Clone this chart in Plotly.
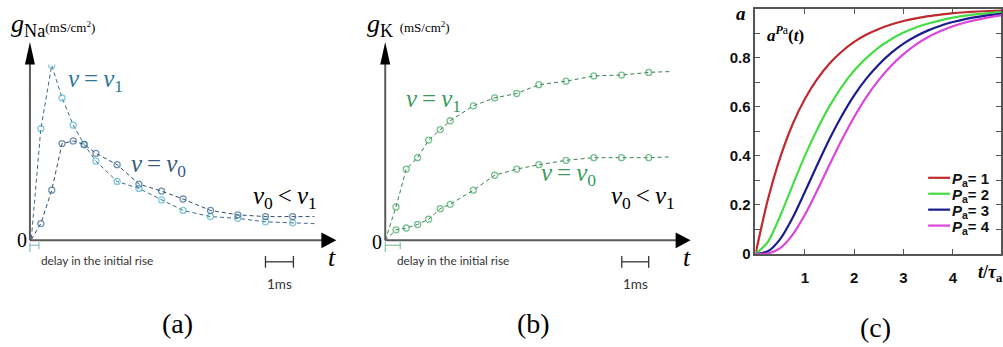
import plotly.graph_objects as go

W, H = 1003, 347

# panel (a): sodium conductance, t in ms, g in mS/cm^2
t_na = [0.05, 0.39, 0.78, 1.15, 1.55, 1.94, 2.36, 3.12, 3.90, 4.71, 5.48, 6.46, 7.44, 8.43, 9.40, 10.18]
g_na_v1 = [0.2, 12.7, 19.9, 16.2, 13.1, 10.9, 9.0, 6.7, 5.9, 4.6, 3.4, 2.7, 2.5, 2.1, 2.0, 1.9]
g_na_v0 = [0.1, 1.9, 5.7, 11.0, 11.3, 10.9, 9.9, 8.6, 6.4, 5.6, 4.7, 3.4, 2.9, 2.7, 2.7, 2.7]

# panel (b): potassium conductance
t_k = [0.0, 0.40, 0.78, 1.20, 1.61, 2.04, 2.41, 3.27, 4.06, 4.88, 5.70, 6.71, 7.74, 8.77, 9.78, 10.63]
g_k_v1 = [0.0, 3.8, 8.1, 9.4, 11.4, 12.6, 13.6, 15.3, 16.2, 16.7, 17.7, 18.1, 18.7, 18.8, 19.1, 19.2]
g_k_v0 = [0.0, 1.2, 1.4, 1.8, 2.4, 3.6, 4.1, 5.7, 7.4, 8.1, 8.6, 9.1, 9.4, 9.4, 9.4, 9.5]

# marker sizes: first/last points are only line ends
msize = [0] + [6] * 14 + [0]

# panel (c): a^Pa(t) vs t/tau_a
t_tau = [0, 0.25, 0.5, 0.75, 1.0, 1.25, 1.5, 1.75, 2.0, 2.25, 2.5, 2.75, 3.0,
         3.25, 3.5, 3.75, 4.0, 4.25, 4.5, 4.75, 5.0]
a_p1 = [0, 0.221, 0.393, 0.528, 0.632, 0.713, 0.777, 0.826, 0.865, 0.895, 0.918, 0.936, 0.950,
        0.961, 0.970, 0.976, 0.982, 0.986, 0.989, 0.991, 0.993]
a_p2 = [0, 0.049, 0.155, 0.279, 0.400, 0.508, 0.603, 0.683, 0.748, 0.800, 0.843, 0.876, 0.903,
        0.924, 0.940, 0.953, 0.964, 0.972, 0.978, 0.983, 0.987]
a_p3 = [0, 0.011, 0.061, 0.147, 0.253, 0.363, 0.469, 0.564, 0.647, 0.716, 0.773, 0.820, 0.858,
        0.888, 0.912, 0.931, 0.946, 0.958, 0.967, 0.974, 0.980]
a_p4 = [0, 0.002, 0.024, 0.078, 0.160, 0.259, 0.364, 0.466, 0.559, 0.641, 0.710, 0.768, 0.815,
        0.854, 0.885, 0.909, 0.929, 0.944, 0.956, 0.966, 0.974]
p_labels = ["1", "2", "3", "4"]
p_colors = ["#bf2a2e", "#47dc47", "#1c1c8e", "#dc45dc"]

c_xticks = [1, 2, 3, 4]
c_yticks = [0, 0.1, 0.2, 0.3, 0.4, 0.5, 0.6, 0.7, 0.8, 0.9]
c_yticktext = ["0", "", "0.2", "", "0.4", "", "0.6", "", "0.8", ""]


def X(p):
    return p / W


def Y(p):
    return 1 - p / H


fig = go.Figure()

# panel (a) traces
fig.add_trace(go.Scatter(x=t_na, y=g_na_v1, mode="lines+markers", xaxis="x", yaxis="y",
                         line=dict(color="#3d6884", width=1, dash="4px,3px"),
                         marker=dict(symbol="circle-open", size=msize, color="#4fb2d2", line=dict(width=1.3)),
                         showlegend=False))
fig.add_trace(go.Scatter(x=t_na, y=g_na_v0, mode="lines+markers", xaxis="x", yaxis="y",
                         line=dict(color="#2f4d6c", width=1, dash="4px,3px"),
                         marker=dict(symbol="circle-open", size=msize, color="#35648e", line=dict(width=1.3)),
                         showlegend=False))

# panel (b) traces
for g in (g_k_v1, g_k_v0):
    fig.add_trace(go.Scatter(x=t_k, y=g, mode="lines+markers", xaxis="x2", yaxis="y2",
                             line=dict(color="#3b7f52", width=1, dash="4px,3px"),
                             marker=dict(symbol="circle-open", size=msize, color="#3fa862", line=dict(width=1.3)),
                             showlegend=False))

# panel (c) traces
for a, lab, col in zip((a_p1, a_p2, a_p3, a_p4), p_labels, p_colors):
    fig.add_trace(go.Scatter(x=t_tau, y=a, mode="lines", xaxis="x3", yaxis="y3",
                             line=dict(color=col, width=2.2, shape="spline", smoothing=0.8),
                             name="Pa = " + lab, showlegend=False))

hidden = dict(visible=False, fixedrange=True)
fig.update_layout(
    xaxis=dict(domain=[X(30), X(330)], range=[0, 300 / 28], **hidden),
    yaxis=dict(domain=[Y(246), Y(66)], range=[0, 20], **hidden),
    xaxis2=dict(domain=[X(386), X(686)], range=[0, 300 / 27], anchor="y2", **hidden),
    yaxis2=dict(domain=[Y(246), Y(66)], range=[0, 20], anchor="x2", **hidden),
    xaxis3=dict(domain=[X(757), 1], range=[0, 4.975], anchor="y3",
                showline=True, linecolor="#555", linewidth=2, mirror="ticks",
                ticks="inside", ticklen=5, tickcolor="#555", tickvals=c_xticks,
                ticktext=[str(v) for v in c_xticks], ticklabelstandoff=9,
                tickfont=dict(family="Liberation Sans", size=15, color="#111", weight="bold"),
                showgrid=False, zeroline=False),
    yaxis3=dict(domain=[Y(260), Y(9)], range=[0, 1], anchor="x3",
                showline=True, linecolor="#555", linewidth=2, mirror="ticks",
                ticks="inside", ticklen=5, tickcolor="#555", tickvals=c_yticks,
                ticktext=c_yticktext,
                tickfont=dict(family="Liberation Sans", size=15, color="#111", weight="bold"),
                showgrid=False, zeroline=False),
)

P = dict(xref="paper", yref="paper")

# axes with arrows for (a) and (b)
ax_col = "#5a5a5a"
shapes = []
for x0, x1 in ((30, 323), (386, 678)):
    shapes.append(dict(type="line", x0=X(x0), x1=X(x1), y0=Y(246), y1=Y(246), line=dict(color=ax_col, width=2), **P))
    shapes.append(dict(type="line", x0=X(x0), x1=X(x0), y0=Y(246), y1=Y(64), line=dict(color=ax_col, width=2), **P))
    shapes.append(dict(type="path", fillcolor="black", line=dict(width=0),
                       path=f"M {X(x0-5)} {Y(66)} L {X(x0+5)} {Y(66)} L {X(x0)} {Y(43)} Z", **P))
    shapes.append(dict(type="path", fillcolor="black", line=dict(width=0),
                       path=f"M {X(x1-1)} {Y(238)} L {X(x1-1)} {Y(254)} L {X(x1+14)} {Y(246)} Z", **P))

# delay brackets
for x0, x1, col in ((30, 39, "#7aaecb"), (386, 401, "#6fb585")):
    shapes.append(dict(type="line", x0=X(x0), x1=X(x1), y0=Y(251), y1=Y(251), line=dict(color=col, width=1), **P))
    shapes.append(dict(type="line", x0=X(x0), x1=X(x0), y0=Y(248), y1=Y(258), line=dict(color=col, width=1), **P))
    shapes.append(dict(type="line", x0=X(x1), x1=X(x1), y0=Y(248), y1=Y(255), line=dict(color=col, width=1), **P))

# 1 ms scale bars
for x0, x1 in ((266, 294), (623, 650)):
    shapes.append(dict(type="line", x0=X(x0), x1=X(x1), y0=Y(268), y1=Y(268), line=dict(color="#333", width=1.3), **P))
    for xx in (x0, x1):
        shapes.append(dict(type="line", x0=X(xx), x1=X(xx), y0=Y(262), y1=Y(274), line=dict(color="#333", width=1.3), **P))

# legend keys for (c)
for i, col in enumerate(p_colors):
    yy = 182 + i * 16.3
    shapes.append(dict(type="line", x0=X(930), x1=X(952), y0=Y(yy), y1=Y(yy), line=dict(color=col, width=2.2), **P))

fig.update_layout(shapes=shapes)

serif = "Liberation Serif"


def note(text, x, y, size=24, color="black", xanchor="left", family=serif, **kw):
    fig.add_annotation(text=text, x=X(x), y=Y(y), xref="paper", yref="paper",
                       xanchor=xanchor, yanchor="middle", showarrow=False,
                       font=dict(family=family, size=size, color=color, **kw))


ts = "&#8201;"
note("<i>g</i><sub>Na</sub><span style='font-size:13px'>(mS/cm<sup>2</sup>)</span>", 9, 26, size=26)
note("<i>g</i><sub>K</sub> <span style='font-size:13px'>(mS/cm<sup>2</sup>)</span>", 366, 26, size=26)

note(f"<i>v</i>{ts}={ts}<i>v</i><sub>1</sub>", 66, 82, color="#2b789a", size=25)
note(f"<i>v</i>{ts}={ts}<i>v</i><sub>0</sub>", 129, 169, color="#3b5c80", size=25)
note(f"<i>v</i><sub>0</sub>{ts}&lt;{ts}<i>v</i><sub>1</sub>", 252, 202, size=25)
note(f"<i>v</i>{ts}={ts}<i>v</i><sub>1</sub>", 405, 103, color="#3b9a5c", size=25)
note(f"<i>v</i>{ts}={ts}<i>v</i><sub>0</sub>", 540, 179, color="#3b9a5c", size=25)
note(f"<i>v</i><sub>0</sub>{ts}&lt;{ts}<i>v</i><sub>1</sub>", 610, 202, size=25)

note("0", 22, 246, size=20, xanchor="center")
note("0", 378, 248, size=20, xanchor="center")
note("<i>t</i>", 333, 264, size=26, xanchor="center")
note("<i>t</i>", 688, 264, size=26, xanchor="center")

sans_n = "Lato, Liberation Sans"
note("delay in the initial rise", 39, 267, size=11.8, color="#333", family=sans_n)
note("delay in the initial rise", 396, 267, size=11.8, color="#333", family=sans_n)
note("1ms", 280, 291, size=13.5, color="#333", xanchor="center", family=sans_n)
note("1ms", 637, 291, size=13.5, color="#333", xanchor="center", family=sans_n)

note("(a)", 178, 331, size=28, xanchor="center")
note("(b)", 535, 331, size=28, xanchor="center")
note("(c)", 877, 335, size=28, xanchor="center")

note("<b><i>a</i></b>", 742, 14, size=19, xanchor="center")
note("<b><i>a</i></b><sup><b><i>P</i></b>a</sup><b>(<i>t</i>)</b>", 767, 35, size=17)
note("<b><i>t</i>/<i>τ</i><sub>a</sub></b>", 978, 280, size=18)

for i, lab in enumerate(p_labels):
    note(f"<b><i>P</i><sub>a</sub>= {lab}</b>", 952, 184 + i * 16.3, size=15,
         family="Liberation Sans", color="#111")

fig.update_layout(width=W, height=H, margin=dict(l=0, r=0, t=0, b=0),
                  paper_bgcolor="white", plot_bgcolor="white")

# page body has a default 8px margin; drop it so the figure fills the window
fig.write_html("out.html", config={"displayModeBar": False},
               post_script="document.body.style.margin='0';")
